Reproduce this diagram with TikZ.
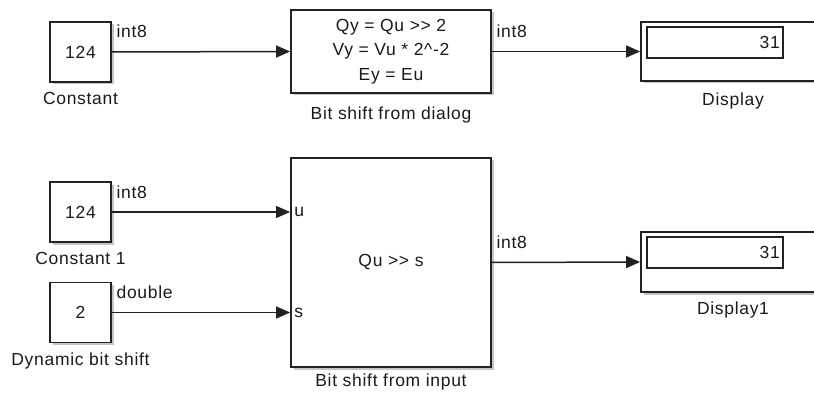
\documentclass[tikz,border=0pt]{standalone}
\usepackage{fontspec}
\setmainfont{Liberation Sans}
\newfontfamily\blkfont[LetterSpace=4]{Liberation Sans}
\usetikzlibrary{arrows.meta, positioning, shadows}
\definecolor{BlkEdge}{HTML}{222222}
\definecolor{BlkText}{HTML}{1A1A1A}
\tikzset{
    % Block styles
    blockbox/.style={
        rectangle,
        draw=BlkEdge,
        fill=white,
        line width=1.8pt,
        inner sep=0pt,
        drop shadow={shadow xshift=2.5pt, shadow yshift=-2.5pt, fill=black!45, opacity=0.5},
        text=BlkText,
        font=\blkfont\fontsize{17.5}{24.5}\selectfont
    },
    valuebox/.style={
        rectangle,
        draw=BlkEdge,
        line width=1.5pt,
        inner xsep=3pt,
        inner ysep=0pt,
        minimum height=31pt,
        text width=130pt,
        align=right,
        text=BlkText,
        font=\blkfont\fontsize{17.5}{19}\selectfont
    },
    blocklabel/.style={
        inner sep=0pt,
        text=BlkText,
        font=\blkfont\fontsize{17.5}{19}\selectfont
    },
    % Signal styles
    signal/.style={
        -{Triangle[length=14pt,width=12pt]},
        line width=1.5pt,
        BlkEdge
    },
    sigtext/.style={
        inner sep=0pt,
        anchor=base west,
        text=BlkText,
        font=\blkfont\fontsize{17.5}{19}\selectfont
    }
}
\begin{document}
\begin{tikzpicture}[x=1pt, y=-1pt]
    \useasboundingbox (0,0) rectangle (814,393);
    \clip (0,0) rectangle (814,393);

    % Top row
    \node[blockbox, minimum width=61pt, minimum height=60pt] (const) at (80.5,52) {124};
    \node[blocklabel, below=9pt of const] (constlbl) {Constant};

    \node[blockbox, minimum width=200pt, minimum height=83pt, align=center] (dialog) at (391,51.5)
        {Qy = Qu >> 2\\Vy = Vu * 2\^{}-2\\Ey = Eu};
    \node[blocklabel, below=13pt of dialog] (dialoglbl) {Bit shift from dialog};

    \node[blockbox, minimum width=184pt, minimum height=59pt] (disp) at (733,51.5) {};
    \node[valuebox, anchor=north west] (dispval) at ([xshift=6pt, yshift=-5pt]disp.north west) {31};
    \node[blocklabel, below=11pt of disp] (displbl) {Display};

    \draw[signal] (const.east) -- node[sigtext, pos=0, xshift=4pt, yshift=14pt] {int8} (dialog.west);
    \draw[signal] (dialog.east) -- node[sigtext, pos=0, xshift=4pt, yshift=14pt] {int8} (disp.west);

    % Bottom row
    \node[blockbox, minimum width=61pt, minimum height=60pt] (constone) at (80.5,212) {124};
    \node[blocklabel, below=9pt of constone] (constonelbl) {Constant 1};

    \node[blockbox, minimum width=61pt, minimum height=60pt] (shift) at (80.5,312.5) {2};
    \node[blocklabel, below=9pt of shift] (shiftlbl) {Dynamic bit shift};

    \node[blockbox, minimum width=200pt, minimum height=209pt] (input) at (391,262.5) {Qu >> s};
    \node[blocklabel, below=6pt of input] (inputlbl) {Bit shift from input};
    \node[sigtext, anchor=west, xshift=4pt] (portu) at (input.west |- constone.east) {u};
    \node[sigtext, anchor=west, xshift=4pt] (ports) at (input.west |- shift.east) {s};

    \node[blockbox, minimum width=184pt, minimum height=60pt] (dispone) at (733,262) {};
    \node[valuebox, anchor=north west] (disponeval) at ([xshift=6pt, yshift=-5pt]dispone.north west) {31};
    \node[blocklabel, below=9pt of dispone] (disponelbl) {Display1};

    \draw[signal] (constone.east) -- node[sigtext, pos=0, xshift=4pt, yshift=14pt] {int8} (constone.east -| input.west);
    \draw[signal] (shift.east) -- node[sigtext, pos=0, xshift=4pt, yshift=14pt] {double} (shift.east -| input.west);
    \draw[signal] (input.east) -- node[sigtext, pos=0, xshift=4pt, yshift=14pt] {int8} (dispone.west);
\end{tikzpicture}
\end{document}
